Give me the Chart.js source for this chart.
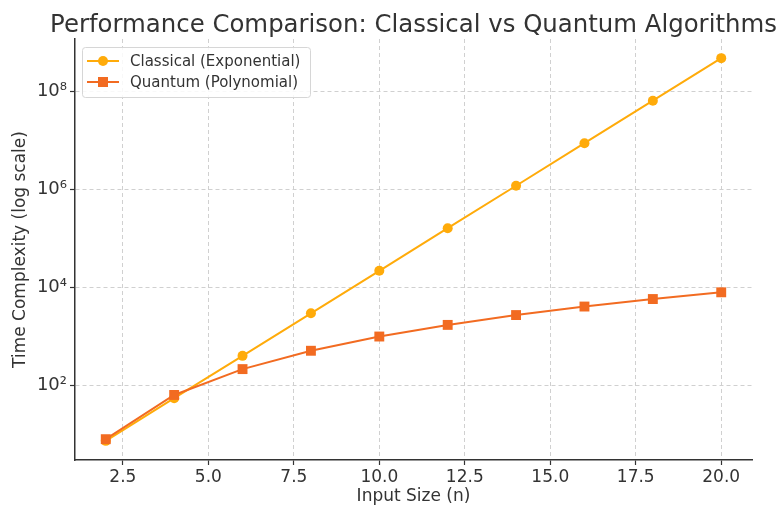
<!DOCTYPE html>
<html>
<head>
<meta charset="utf-8">
<script src="https://cdn.jsdelivr.net/npm/chart.js@4"></script>
<style>
html,body{margin:0;padding:0;background:#fff;}
canvas{display:block;}
</style>
</head>
<body>
<canvas id="c" width="777" height="511"></canvas>
<script>
const inputSizes = [2, 4, 6, 8, 10, 12, 14, 16, 18, 20];
const classicalTimes = [7.4, 55, 403, 2980, 22000, 163000, 1200000, 8900000, 65700000, 485000000];
const quantumTimes = [8, 64, 216, 512, 1000, 1728, 2744, 4096, 5832, 8000];
const xTickValues = [2.5, 5.0, 7.5, 10.0, 12.5, 15.0, 17.5, 20.0];
const yTickValues = [1e2, 1e4, 1e6, 1e8];
const yTickLabels = ['10\u00B2', '10\u2074', '10\u2076', '10\u2078'];
const seriesNames = ['Classical (Exponential)', 'Quantum (Polynomial)'];
const titleText = 'Performance Comparison: Classical vs Quantum Algorithms';
const xLabel = 'Input Size (n)';
const yLabel = 'Time Complexity (log scale)';

const C_CLASSIC = '#ffab0a';
const C_QUANT = '#f26b21';
const FONT = '"DejaVu Sans", sans-serif';

const textPlugin = {
  id: 'textPlugin',
  beforeDraw(chart) {
    const ctx = chart.ctx;
    ctx.save();
    ctx.fillStyle = '#fff';
    ctx.fillRect(0, 0, chart.width, chart.height);
    ctx.restore();
  },
  afterDraw(chart) {
    const ctx = chart.ctx;
    const a = chart.chartArea;
    const cx = (a.left + a.right) / 2;
    ctx.save();
    ctx.fillStyle = '#333';
    ctx.textAlign = 'center';
    ctx.textBaseline = 'alphabetic';
    ctx.font = '24.4px ' + FONT;
    ctx.fillText(titleText, cx, 32);
    ctx.font = '17px ' + FONT;
    ctx.textBaseline = 'middle';
    ctx.fillText(xLabel, cx, 497);
    ctx.translate(21, (a.top + a.bottom) / 2);
    ctx.rotate(-Math.PI / 2);
    ctx.fillText(yLabel, 0, 0);
    ctx.restore();

    // legend
    ctx.save();
    const lx = 82, ly = 47, lw = 228, lh = 50;
    ctx.fillStyle = 'rgba(255,255,255,0.85)';
    ctx.strokeStyle = '#d6d6d6';
    ctx.lineWidth = 1;
    ctx.beginPath();
    if (ctx.roundRect) ctx.roundRect(lx + 0.5, ly + 0.5, lw, lh, 3); else ctx.rect(lx + 0.5, ly + 0.5, lw, lh);
    ctx.fill();
    ctx.stroke();
    const rows = [61, 82];
    const cols = [C_CLASSIC, C_QUANT];
    rows.forEach((ry, i) => {
      ctx.strokeStyle = cols[i];
      ctx.fillStyle = cols[i];
      ctx.lineWidth = 2;
      ctx.beginPath();
      ctx.moveTo(87, ry);
      ctx.lineTo(119, ry);
      ctx.stroke();
      if (i === 0) {
        ctx.beginPath();
        ctx.arc(103, ry, 5, 0, Math.PI * 2);
        ctx.fill();
      } else {
        ctx.fillRect(98, ry - 5, 10, 10);
      }
      ctx.fillStyle = '#333';
      ctx.font = '15px ' + FONT;
      ctx.textAlign = 'left';
      ctx.textBaseline = 'middle';
      ctx.fillText(seriesNames[i], 130, ry + 1);
    });
    ctx.restore();
  }
};

new Chart(document.getElementById('c'), {
  type: 'line',
  data: {
    datasets: [
      {
        label: seriesNames[0],
        data: inputSizes.map((n, i) => ({ x: n, y: classicalTimes[i] })),
        borderColor: C_CLASSIC,
        backgroundColor: C_CLASSIC,
        borderWidth: 2,
        pointStyle: 'circle',
        pointRadius: 5,
        pointBorderWidth: 0,
        tension: 0,
        order: 1
      },
      {
        label: seriesNames[1],
        data: inputSizes.map((n, i) => ({ x: n, y: quantumTimes[i] })),
        borderColor: C_QUANT,
        backgroundColor: C_QUANT,
        borderWidth: 2,
        pointStyle: 'rect',
        pointRadius: 7,
        pointBorderWidth: 0,
        tension: 0,
        order: 0
      }
    ]
  },
  options: {
    responsive: false,
    animation: false,
    devicePixelRatio: 1,
    layout: { padding: { left: 0, right: 25, top: 39, bottom: 0 } },
    plugins: { legend: { display: false }, tooltip: { enabled: false }, title: { display: false } },
    scales: {
      x: {
        type: 'linear',
        min: 1.1,
        max: 20.9,
        afterBuildTicks(scale) { scale.ticks = xTickValues.map(v => ({ value: v })); },
        afterFit(scale) { scale.height = 51; },
        ticks: {
          color: '#333',
          font: { family: FONT, size: 17 },
          padding: 2,
          maxRotation: 0,
          autoSkip: false,
          callback: (v) => Number(v).toFixed(1)
        },
        grid: {
          color: '#d0d0d0',
          lineWidth: 1,
          drawTicks: true,
          tickLength: 5,
          tickColor: '#333',
          tickBorderDash: [],
          tickWidth: 1.2
        },
        border: { display: true, color: '#333', width: 1.5, dash: [4, 3] }
      },
      y: {
        type: 'logarithmic',
        min: Math.pow(10, 0.478),
        max: Math.pow(10, 9.077),
        afterBuildTicks(scale) { scale.ticks = yTickValues.map(v => ({ value: v })); },
        afterFit(scale) { scale.width = 75; },
        ticks: {
          color: '#333',
          font: { family: FONT, size: 18 },
          padding: 3,
          autoSkip: false,
          callback: (v) => { const k = yTickValues.indexOf(v); return k >= 0 ? yTickLabels[k] : ''; }
        },
        grid: {
          color: '#d0d0d0',
          lineWidth: 1,
          drawTicks: true,
          tickLength: 5,
          tickColor: '#333',
          tickBorderDash: [],
          tickWidth: 1.2
        },
        border: { display: true, color: '#333', width: 1.5, dash: [4, 3] }
      }
    }
  },
  plugins: [textPlugin]
});
</script>
</body>
</html>
